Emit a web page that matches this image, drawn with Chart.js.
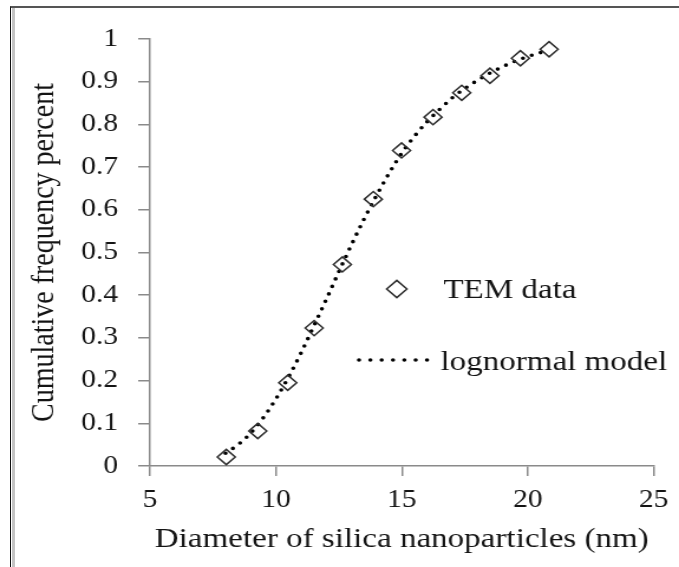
<!DOCTYPE html>
<html>
<head>
<meta charset="utf-8">
<title>Cumulative size distribution of silica nanoparticles</title>
<script src="https://cdn.jsdelivr.net/npm/chart.js@4.4.1/dist/chart.umd.min.js"></script>
<style>
  html, body { margin: 0; padding: 0; background: #fff; }
  body { width: 679px; height: 567px; position: relative; overflow: hidden; }
  /* worksheet-style frame: black edge plus grey shadow on the left, dark rule on top */
  #frame { position: absolute; left: 10px; top: 6px; right: -4px; bottom: -4px;
           border-left: 1px solid #111; border-top: 2px solid #555; }
  #frame::before { content: ""; position: absolute; left: 1px; top: 0; bottom: 0; width: 3px; background: #c4c4c4; }
  /* the plot is laid out narrow and stretched sideways */
  #wrap { position: absolute; left: 0; top: 0; width: 575px; height: 567px;
          transform: scaleX(1.1809); transform-origin: 0 0; }
</style>
</head>
<body>
<div id="frame"></div>
<div id="wrap"><canvas id="chart"></canvas></div>

<script>
/* ---- Data ---- */
// TEM measurements: particle diameter (nm) vs cumulative fraction
const TEM_DIAMETER = [8.03, 9.28, 10.47, 11.52, 12.64, 13.87, 14.99, 16.24, 17.38, 18.5, 19.71, 20.85];
const TEM_CUMULATIVE = [0.021, 0.082, 0.195, 0.323, 0.472, 0.625, 0.739, 0.817, 0.874, 0.914, 0.955, 0.976];

// fitted lognormal curve
const MODEL_DIAMETER = [8, 8.5, 9, 9.5, 10, 10.5, 11, 11.5, 12, 12.5, 13, 13.5, 14, 14.5,
                        15, 15.5, 16, 16.5, 17, 17.5, 18, 18.5, 19, 19.5, 20, 20.5, 20.8];
const MODEL_CUMULATIVE = [0.03, 0.05, 0.077, 0.113, 0.157, 0.208, 0.265, 0.327, 0.39, 0.455, 0.518, 0.578, 0.634, 0.686,
                          0.733, 0.772, 0.806, 0.835, 0.862, 0.884, 0.903, 0.92, 0.935, 0.948, 0.959, 0.968, 0.973];

const X_TICKS = ["5", "10", "15", "20", "25"];
const Y_TICKS = ["0", "0.1", "0.2", "0.3", "0.4", "0.5", "0.6", "0.7", "0.8", "0.9", "1"];

const SERIF = "'Liberation Serif', 'Times New Roman', serif";
const AXIS_GREY = "#8a8a8a";
const INK = "#141414";

const pts = (xs, ys) => xs.map((x, i) => ({ x, y: ys[i] }));

/* ---- Legend drawn inside the plot area ---- */
const insetLegend = {
  id: "insetLegend",
  afterDatasetsDraw(chart) {
    const ctx = chart.ctx;
    const [tem, model] = chart.data.datasets;
    ctx.save();

    // open diamond
    const cx = 336, cy = 289, r = 8.6;
    ctx.beginPath();
    ctx.moveTo(cx, cy - r); ctx.lineTo(cx + r, cy); ctx.lineTo(cx, cy + r); ctx.lineTo(cx - r, cy);
    ctx.closePath();
    ctx.lineWidth = tem.borderWidth;
    ctx.strokeStyle = tem.borderColor;
    ctx.stroke();

    // dotted sample
    ctx.beginPath();
    ctx.setLineDash([0, 9.6]);
    ctx.lineCap = "round";
    ctx.lineWidth = model.borderWidth;
    ctx.strokeStyle = model.borderColor;
    ctx.moveTo(304, 360); ctx.lineTo(363, 360);
    ctx.stroke();
    ctx.setLineDash([]);

    ctx.fillStyle = INK;
    ctx.font = `28px ${SERIF}`;
    ctx.textBaseline = "alphabetic";
    ctx.fillText(tem.label, 375.5, 298);
    ctx.fillText(model.label, 373, 370);
    ctx.restore();
  }
};

/* ---- Chart ---- */
new Chart(document.getElementById("chart"), {
  type: "scatter",
  data: {
    datasets: [
      {
        label: "TEM data",
        data: pts(TEM_DIAMETER, TEM_CUMULATIVE),
        pointStyle: "rectRot",
        pointRadius: 7.6,
        borderColor: "#2e2e2e",
        backgroundColor: "rgba(0,0,0,0)",
        borderWidth: 1.5,
        showLine: false
      },
      {
        label: "lognormal model",
        data: pts(MODEL_DIAMETER, MODEL_CUMULATIVE),
        showLine: true,
        pointRadius: 0,
        borderColor: "#000",
        borderWidth: 3.6,
        borderDash: [0, 8],
        borderCapStyle: "round",
        cubicInterpolationMode: "monotone"
      }
    ]
  },
  options: {
    responsive: true,
    maintainAspectRatio: false,
    animation: false,
    devicePixelRatio: 1,
    layout: { padding: { top: 39, right: 17, bottom: 0, left: 0 } },
    plugins: { legend: { display: false }, tooltip: { enabled: false } },
    scales: {
      x: {
        type: "linear",
        min: 5, max: 25,
        afterFit: s => { s.height = 101; },
        grid: { drawOnChartArea: false, drawTicks: true, tickLength: 10, color: AXIS_GREY, lineWidth: 1.5 },
        border: { display: true, color: AXIS_GREY, width: 1.5 },
        ticks: {
          stepSize: 5, padding: 9, color: INK,
          font: { family: SERIF, size: 25 },
          callback: (v, i) => X_TICKS[i]
        },
        title: {
          display: true, text: "Diameter of silica nanoparticles (nm)", color: INK,
          font: { family: SERIF, size: 28 }, padding: { top: 0, bottom: 11 }
        }
      },
      y: {
        min: 0, max: 1,
        afterFit: s => { s.width = 127; },
        grid: { drawOnChartArea: false, drawTicks: true, tickLength: 10, color: AXIS_GREY, lineWidth: 1.5 },
        border: { display: true, color: AXIS_GREY, width: 1.5 },
        ticks: {
          stepSize: 0.1, padding: 17, color: INK,
          font: { family: SERIF, size: 25 },
          callback: (v, i) => Y_TICKS[i]
        },
        title: {
          display: true, text: "Cumulative frequency percent", color: INK,
          font: { family: SERIF, size: 28 }, padding: { top: 21, bottom: 0 }
        }
      }
    }
  },
  plugins: [insetLegend]
});
</script>
</body>
</html>
